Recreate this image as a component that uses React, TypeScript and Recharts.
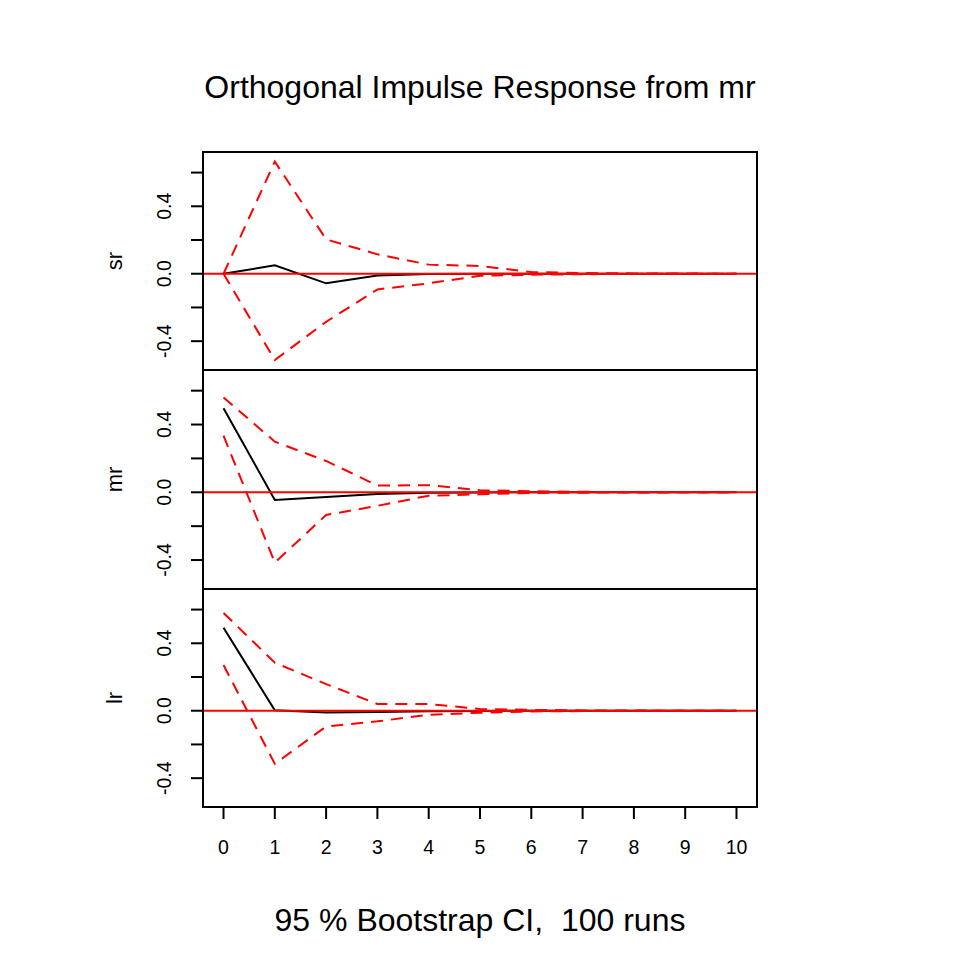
import { LineChart, Line, XAxis, YAxis, ReferenceLine } from 'recharts'

const horizons = [0, 1, 2, 3, 4, 5, 6, 7, 8, 9, 10]
const xTicks = [0, 1, 2, 3, 4, 5, 6, 7, 8, 9, 10]
const yTicks = [-0.4, -0.2, 0, 0.2, 0.4, 0.6]
const yLabelled = [-0.4, 0, 0.4]

// sr response to mr shock
const srIrf = [0, 0.05, -0.057, -0.01, -0.002, 0, 0, 0, 0, 0, 0]
const srUpper = [0, 0.665, 0.204, 0.115, 0.054, 0.046, 0.01, 0.004, 0.002, 0.001, 0]
const srLower = [0, -0.512, -0.285, -0.093, -0.057, -0.012, -0.006, -0.003, -0.001, 0, 0]

// mr response to mr shock
const mrIrf = [0.496, -0.045, -0.028, -0.01, -0.003, -0.001, 0, 0, 0, 0, 0]
const mrUpper = [0.56, 0.299, 0.185, 0.04, 0.042, 0.012, 0.006, 0.003, 0.001, 0, 0]
const mrLower = [0.334, -0.415, -0.134, -0.08, -0.02, -0.012, -0.004, -0.002, -0.001, 0, 0]

// lr response to mr shock
const lrIrf = [0.492, 0.003, -0.01, -0.008, -0.003, -0.001, 0, 0, 0, 0, 0]
const lrUpper = [0.58, 0.285, 0.158, 0.04, 0.04, 0.01, 0.005, 0.002, 0.001, 0, 0]
const lrLower = [0.271, -0.315, -0.093, -0.063, -0.024, -0.012, -0.004, -0.002, -0.001, 0, 0]

const FONT = '"Liberation Sans", Arial, Helvetica, sans-serif'
const Y_DOMAIN: [number, number] = [-0.571, 0.722]

const makeRows = (irf: number[], lower: number[], upper: number[]) =>
  horizons.map((h, i) => ({ h, irf: irf[i], lower: lower[i], upper: upper[i] }))

const panels = [
  { name: 'sr', top: 152, height: 218, rows: makeRows(srIrf, srLower, srUpper) },
  { name: 'mr', top: 370, height: 219, rows: makeRows(mrIrf, mrLower, mrUpper) },
  { name: 'lr', top: 589, height: 218, rows: makeRows(lrIrf, lrLower, lrUpper) },
]

function YTick(props: any) {
  const { x, y, payload } = props
  const v = payload.value
  if (!yLabelled.some((t) => Math.abs(t - v) < 1e-9)) return null
  const bx = x - 18
  return (
    <text
      x={bx}
      y={y}
      transform={`rotate(-90, ${bx}, ${y})`}
      textAnchor="middle"
      fontSize={19.5}
      fontFamily={FONT}
      fill="#000"
    >
      {v.toFixed(1)}
    </text>
  )
}

export default function App() {
  return (
    <div style={{ position: 'absolute', left: 0, top: 0, width: 960, height: 960, background: '#fff', fontFamily: FONT }}>
      <div
        style={{ position: 'absolute', left: 0, top: 71, width: 960, textAlign: 'center', fontSize: 32, lineHeight: '32px' }}
      >
        Orthogonal Impulse Response from mr
      </div>

      {panels.map((p, idx) => {
        const last = idx === panels.length - 1
        return (
          <div key={p.name}>
            <div
              style={{
                position: 'absolute',
                left: 0,
                top: p.top,
                width: 120,
                height: p.height,
              }}
            >
              <svg width={130} height={p.height} style={{ position: 'absolute', left: 0, top: 0 }}>
                <text
                  x={122}
                  y={p.height / 2}
                  transform={`rotate(-90, 122, ${p.height / 2})`}
                  textAnchor="middle"
                  fontSize={22}
                  fontFamily={FONT}
                >
                  {p.name}
                </text>
              </svg>
            </div>
            <div style={{ position: 'absolute', left: 0, top: p.top }}>
              <LineChart
                width={960}
                height={p.height + (last ? 70 : 0)}
                data={p.rows}
                margin={{ top: 0, right: 203, bottom: 0, left: 0 }}
              >
                <XAxis
                  dataKey="h"
                  type="number"
                  domain={[-0.4, 10.4]}
                  ticks={xTicks}
                  interval={0}
                  hide={!last}
                  height={70}
                  axisLine={false}
                  tickSize={12}
                  tickMargin={21}
                  tickLine={{ stroke: '#000', strokeWidth: 2 }}
                  tick={{ fontSize: 19.5, fill: '#000', fontFamily: FONT }}
                />
                <YAxis
                  type="number"
                  domain={Y_DOMAIN}
                  ticks={yTicks}
                  interval={0}
                  width={203}
                  axisLine={false}
                  tickSize={12}
                  tickLine={{ stroke: '#000', strokeWidth: 2 }}
                  tick={<YTick />}
                  allowDataOverflow
                />
                <Line
                  type="linear"
                  dataKey="irf"
                  stroke="#000"
                  strokeWidth={2}
                  dot={false}
                  isAnimationActive={false}
                />
                <Line
                  type="linear"
                  dataKey="upper"
                  stroke="#ff0000"
                  strokeWidth={2}
                  strokeDasharray="12 8"
                  dot={false}
                  isAnimationActive={false}
                />
                <Line
                  type="linear"
                  dataKey="lower"
                  stroke="#ff0000"
                  strokeWidth={2}
                  strokeDasharray="12 8"
                  dot={false}
                  isAnimationActive={false}
                />
                <ReferenceLine y={0} stroke="#ff0000" strokeWidth={2} />
              </LineChart>
            </div>
            <div
              style={{
                position: 'absolute',
                left: 202,
                top: p.top - 1,
                width: 556,
                height: p.height + 2,
                boxSizing: 'border-box',
                border: '2px solid #000',
                pointerEvents: 'none',
              }}
            />
          </div>
        )
      })}

      <div
        style={{ position: 'absolute', left: 0, top: 904, width: 960, textAlign: 'center', fontSize: 32, lineHeight: '32px' }}
      >
        95 % Bootstrap CI,&nbsp;&nbsp;100 runs
      </div>
    </div>
  )
}
